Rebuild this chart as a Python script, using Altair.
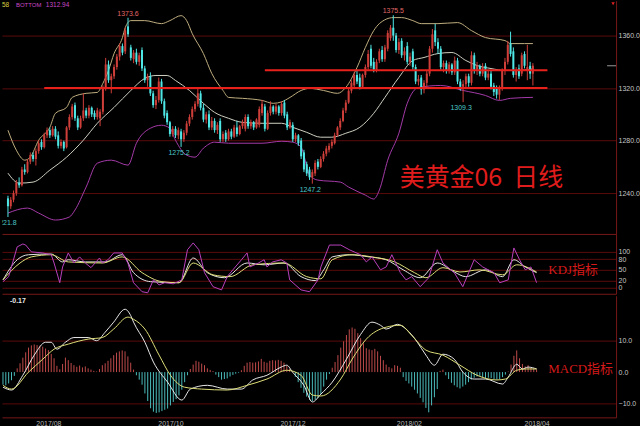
import altair as alt
import pandas as pd

# ---------------- daily bars (June gold futures) ----------------
opens = [
    1236, 1230, 1235, 1240, 1248, 1246, 1258, 1256, 1264, 1269,
    1266, 1272, 1279, 1275, 1284, 1288, 1284, 1289, 1284, 1276,
    1279, 1275, 1290, 1298, 1307, 1297, 1290, 1297, 1303, 1299,
    1305, 1301, 1298, 1297, 1302, 1320, 1338, 1326, 1329, 1336,
    1344, 1352, 1348, 1367, 1351, 1342, 1347, 1340, 1349, 1335,
    1326, 1329, 1316, 1307, 1311, 1325, 1310, 1301, 1294, 1285,
    1289, 1284, 1287, 1281, 1286, 1293, 1298, 1304, 1308, 1316,
    1305, 1296, 1300, 1290, 1295, 1288, 1295, 1281, 1286, 1281,
    1287, 1283, 1290, 1285, 1291, 1289, 1298, 1291, 1294, 1290,
    1292, 1301, 1306, 1289, 1301, 1306, 1302, 1306, 1301, 1309,
    1300, 1290, 1292, 1281, 1284, 1280, 1271, 1262, 1258, 1252,
    1255, 1264, 1260, 1266, 1270, 1273, 1276, 1278, 1284, 1290,
    1295, 1303, 1309, 1318, 1322, 1330, 1328, 1321, 1330, 1336,
    1350, 1340, 1334, 1341, 1349, 1342, 1350, 1358, 1366, 1360,
    1349, 1356, 1345, 1352, 1340, 1348, 1336, 1325, 1328, 1319,
    1324, 1331, 1350, 1364, 1355, 1350, 1336, 1339, 1333, 1338,
    1332, 1341, 1325, 1321, 1323, 1329, 1324, 1345, 1334, 1337,
    1331, 1337, 1328, 1331, 1322, 1320, 1315, 1320, 1333, 1340,
    1354, 1348, 1330, 1335, 1331, 1346, 1334, 1337, 1331,
]
highs = [
    1238, 1237, 1242, 1250, 1252, 1260, 1262, 1266, 1271, 1271,
    1274, 1280, 1281, 1286, 1290, 1290, 1291, 1291, 1287, 1281,
    1280, 1291, 1300, 1308, 1309, 1299, 1299, 1316, 1305, 1307,
    1306, 1303, 1305, 1304, 1322, 1343, 1341, 1331, 1338, 1346,
    1354, 1354, 1366, 1373.6, 1353, 1349, 1350, 1347, 1351, 1337,
    1331, 1332, 1318, 1314, 1328, 1327, 1312, 1303, 1295, 1291,
    1291, 1290, 1289, 1288, 1295, 1300, 1306, 1310, 1320, 1318,
    1308, 1302, 1303, 1298, 1297, 1294, 1297, 1287, 1288, 1289,
    1289, 1292, 1295, 1292, 1296, 1300, 1300, 1296, 1295, 1297,
    1306, 1311, 1308, 1303, 1310, 1307, 1308, 1307, 1310, 1311,
    1302, 1296, 1294, 1286, 1285, 1282, 1273, 1264, 1260, 1258,
    1265, 1266, 1268, 1272, 1276, 1278, 1281, 1286, 1291, 1297,
    1305, 1311, 1320, 1326, 1332, 1334, 1331, 1331, 1338, 1349,
    1353, 1343, 1342, 1350, 1352, 1353, 1364, 1368, 1375.5, 1362,
    1358, 1358, 1351, 1355, 1347, 1350, 1338, 1330, 1330, 1326,
    1333, 1352, 1365, 1369, 1358, 1352, 1341, 1341, 1340, 1339,
    1344, 1343, 1327, 1326, 1331, 1331, 1348, 1347, 1340, 1338,
    1339, 1339, 1333, 1333, 1324, 1322, 1322, 1335, 1343, 1356,
    1363, 1351, 1336, 1338, 1347, 1348, 1353, 1340, 1339,
]
lows = [
    1221.8, 1228, 1233, 1238, 1244, 1245, 1254, 1255, 1262, 1264,
    1261, 1270, 1273, 1274, 1282, 1282, 1283, 1281, 1274, 1274,
    1272, 1274, 1288, 1296, 1295, 1288, 1289, 1295, 1297, 1297,
    1298, 1296, 1296, 1291, 1300, 1318, 1324, 1316, 1327, 1334,
    1341, 1345, 1346, 1359, 1341, 1339, 1338, 1337, 1333, 1324,
    1321, 1314, 1305, 1304, 1309, 1308, 1297, 1292, 1283, 1283,
    1282, 1281, 1275.2, 1279, 1284, 1291, 1296, 1302, 1306, 1303,
    1294, 1293, 1288, 1288, 1286, 1285, 1279, 1279, 1279, 1280,
    1281, 1282, 1283, 1284, 1289, 1287, 1289, 1289, 1288, 1289,
    1290, 1299, 1287, 1288, 1299, 1300, 1300, 1299, 1299, 1297,
    1288, 1289, 1279, 1279, 1276, 1266, 1256, 1253, 1250, 1247.2,
    1253, 1258, 1259, 1264, 1268, 1271, 1274, 1277, 1283, 1288,
    1294, 1301, 1308, 1316, 1320, 1323, 1319, 1320, 1328, 1334,
    1335, 1332, 1332, 1339, 1340, 1340, 1348, 1356, 1356, 1347,
    1346, 1343, 1341, 1338, 1337, 1334, 1323, 1322, 1315, 1316,
    1321, 1329, 1347, 1352, 1346, 1334, 1332, 1331, 1331, 1330,
    1330, 1323, 1318, 1309.3, 1320, 1321, 1322, 1331, 1330, 1329,
    1329, 1326, 1326, 1319, 1314, 1312, 1311, 1318, 1330, 1338,
    1344, 1328, 1325, 1327, 1329, 1335, 1326, 1327, 1322,
]
closes = [
    1230, 1235, 1240, 1248, 1246, 1258, 1256, 1264, 1269, 1266,
    1272, 1278, 1275, 1284, 1288, 1284, 1289, 1283, 1276, 1279,
    1274, 1290, 1298, 1306, 1297, 1290, 1297, 1303, 1299, 1305,
    1300, 1298, 1303, 1302, 1320, 1338, 1326, 1329, 1336, 1344,
    1352, 1347, 1364, 1361, 1343, 1347, 1340, 1345, 1335, 1326,
    1329, 1316, 1307, 1311, 1325, 1310, 1299, 1294, 1285, 1289,
    1284, 1288, 1281, 1286, 1293, 1298, 1304, 1308, 1316, 1305,
    1296, 1300, 1290, 1295, 1288, 1292, 1281, 1285, 1281, 1287,
    1283, 1290, 1285, 1291, 1294, 1298, 1291, 1294, 1290, 1296,
    1304, 1308, 1289, 1301, 1306, 1302, 1306, 1301, 1308, 1299,
    1290, 1294, 1281, 1284, 1278, 1268, 1258, 1255, 1252, 1256,
    1263, 1260, 1266, 1270, 1274, 1276, 1279, 1284, 1290, 1295,
    1303, 1309, 1318, 1324, 1330, 1325, 1321, 1330, 1336, 1346,
    1337, 1334, 1340, 1348, 1342, 1351, 1362, 1366, 1360, 1349,
    1355, 1345, 1348, 1340, 1344, 1336, 1325, 1327, 1319, 1324,
    1331, 1350, 1361, 1355, 1350, 1336, 1339, 1333, 1338, 1332,
    1341, 1325, 1321, 1323, 1329, 1324, 1345, 1334, 1337, 1331,
    1336, 1328, 1331, 1321, 1317, 1315, 1320, 1333, 1340, 1353,
    1346, 1330, 1333, 1329, 1345, 1337, 1336, 1331, 1337,
]

# ---------------- Bollinger bands (bar index, price) ----------------
boll_up = [
    (0, 1287.9), (3, 1272.7), (6, 1265.1), (8, 1267.4), (11, 1280.3), (15, 1290.1),
    (17, 1300.8), (21, 1305.3), (23, 1312.9), (28, 1316.0), (32, 1316.7), (34, 1323.6),
    (36, 1333.4), (38, 1346.3), (41, 1358.5), (42, 1366.0), (44, 1371.4), (49, 1371.4),
    (55, 1369.1), (58, 1371.4), (62, 1375.2), (64, 1371.4), (66, 1361.5), (70, 1346.3),
    (73, 1331.1), (77, 1318.2), (79, 1312.9), (84, 1312.2), (91, 1310.6), (95, 1308.4),
    (98, 1309.5), (101, 1312.9), (105, 1318.2), (108, 1319.8), (113, 1318.2), (118, 1316.0),
    (121, 1320.5), (125, 1335.7), (128, 1350.9), (131, 1363.8), (133, 1369.1), (138, 1373.7),
    (141, 1373.7), (145, 1371.4), (148, 1369.1), (154, 1369.1), (161, 1369.9), (166, 1363.8),
    (171, 1358.5), (178, 1356.2), (180, 1353.9), (185, 1353.9), (188, 1353.9),
]
boll_mid = [
    (0, 1255.2), (4, 1247.6), (9, 1248.4), (15, 1257.5), (21, 1267.4), (27, 1280.3),
    (32, 1293.2), (38, 1305.3), (44, 1318.2), (49, 1327.4), (53, 1329.6), (57, 1329.6),
    (60, 1325.8), (65, 1318.2), (70, 1308.4), (74, 1301.5), (79, 1297.0), (84, 1293.9),
    (91, 1293.2), (98, 1293.2), (102, 1290.1), (107, 1286.3), (112, 1282.6), (116, 1282.6),
    (121, 1285.6), (126, 1290.1), (131, 1300.8), (135, 1312.9), (140, 1328.1), (145, 1341.0),
    (149, 1343.3), (154, 1346.3), (159, 1347.1), (164, 1341.0), (168, 1337.2), (173, 1334.9),
    (178, 1333.4), (182, 1333.4), (188, 1334.6),
]
boll_low = [
    (0, 1224.8), (7, 1228.6), (11, 1224.8), (17, 1219.5), (22, 1221.8), (24, 1227.1),
    (28, 1244.6), (32, 1262.8), (37, 1265.1), (43, 1261.3), (46, 1278.0), (51, 1289.4),
    (55, 1291.7), (58, 1289.4), (60, 1280.3), (64, 1268.9), (67, 1267.4), (70, 1274.2),
    (74, 1278.8), (79, 1278.0), (91, 1278.0), (98, 1279.5), (102, 1278.8), (105, 1275.0),
    (108, 1253.7), (111, 1249.9), (119, 1248.4), (122, 1244.6), (128, 1238.5), (131, 1235.5),
    (133, 1242.3), (136, 1265.1), (140, 1285.6), (143, 1308.4), (147, 1320.5), (155, 1322.0),
    (163, 1318.2), (171, 1314.4), (176, 1310.6), (180, 1312.2), (188, 1312.94),
]

# ---------------- KDJ ----------------
kdj_k = [
    (0, 22), (5, 78), (9, 92), (17, 94), (21, 72), (23, 78), (29, 72), (36, 72), (42, 92),
    (46, 42), (52, 17), (62, 14), (67, 83), (72, 42), (78, 28), (86, 69), (92, 64), (99, 69),
    (105, 31), (110, 20), (113, 50), (116, 86), (122, 92), (129, 86), (135, 78), (141, 50),
    (147, 28), (153, 69), (159, 44), (163, 31), (170, 50), (176, 31), (180, 78), (184, 58),
    (188, 42),
]
kdj_d = [
    (0, 22), (6, 69), (10, 86), (17, 92), (23, 72), (35, 69), (42, 86), (49, 42), (56, 17),
    (62, 14), (67, 69), (74, 36), (80, 31), (88, 64), (99, 69), (107, 31), (112, 25), (116, 78),
    (123, 92), (130, 86), (138, 72), (145, 42), (149, 28), (155, 56), (161, 44), (168, 50),
    (176, 36), (181, 64), (188, 44),
]
kdj_j = [
    (0, 17), (2, 31), (5, 114), (7, 122), (8, 119), (10, 100), (14, 97), (17, 92), (18, 69),
    (20, 14), (21, 58), (23, 97), (25, 69), (27, 86), (29, 69), (31, 56), (34, 83), (35, 69),
    (37, 78), (39, 97), (42, 97), (44, 69), (46, 14), (49, -11), (51, -14), (53, 22), (55, 8),
    (57, 14), (60, 11), (63, 22), (65, 106), (67, 125), (69, 106), (71, 42), (74, 3), (77, -6),
    (79, 31), (81, 50), (84, 78), (86, 97), (87, 58), (90, 69), (92, 78), (93, 58), (95, 72),
    (98, 78), (100, 69), (101, 22), (105, -6), (108, -11), (111, 22), (112, 58), (115, 119),
    (119, 119), (122, 106), (126, 92), (128, 72), (130, 86), (133, 50), (135, 58), (137, 92),
    (140, 42), (142, 22), (144, 31), (147, 3), (150, 28), (153, 106), (155, 69), (159, 42),
    (162, 3), (166, 78), (169, 58), (173, 42), (175, 14), (178, 22), (180, 111), (182, 78),
    (184, 50), (186, 58), (188, 14),
]

# ---------------- MACD ----------------
macd_hist = [
    -4.0, -4.2, -3.6, -2.6, -1.2, 1.2, 2.8, 4.6, 6.3, 7.8,
    8.5, 8.8, 8.6, 8.4, 8.1, 7.5, 7.0, 5.8, 4.4, 2.0,
    0.9, 2.6, 4.6, 3.8, 2.9, 2.2, 1.7, 2.1, 1.5, 1.8,
    1.2, 0.8, 0.4, 0.2, 1.0, 2.2, 2.8, 3.6, 4.4, 5.4,
    6.2, 6.6, 6.9, 6.6, 5.0, 3.0, 0.8, -1.0, -2.4, -4.0,
    -6.8, -9.2, -11.5, -12.6, -13.0, -12.8, -12.4, -12.0, -11.6, -10.6,
    -9.5, -8.6, -7.4, -5.6, -3.2, -1.0, 1.0, 2.4, 3.6, 3.3,
    2.7, 2.2, 1.2, 0.7, 0.3, -0.8, -1.6, -2.4, -2.2, -2.0,
    -1.4, -0.9, -0.5, -0.2, 0.6, 2.0, 3.0, 3.2, 3.0, 3.1,
    3.4, 4.2, 3.3, 3.0, 3.6, 3.8, 3.7, 3.9, 3.6, 3.0,
    2.0, 1.0, 0.2, -1.5, -3.2, -5.0, -6.6, -7.8, -8.8, -9.2,
    -8.8, -8.2, -7.0, -4.6, -2.4, -0.6, 1.4, 3.2, 5.4, 7.8,
    9.8, 11.8, 13.6, 14.2, 13.8, 12.4, 10.8, 9.2, 7.6, 7.2,
    7.0, 7.4, 6.6, 5.2, 3.8, 2.4, 1.6, 1.2, 2.2, 2.0,
    1.4, -1.6, -2.8, -3.6, -4.6, -5.6, -6.8, -8.2, -9.6, -11.4,
    -12.8, -10.6, -8.0, -5.4, 0.4, 0.8, -1.0, -2.2, -3.4, -4.2,
    -4.8, -5.2, -4.6, -4.0, -3.2, -2.4, -1.8, -1.4, -1.2, -1.6,
    -2.0, -1.8, -1.9, -2.2, -2.4, -2.2, -1.6, -0.8, 0.2, 2.4,
    5.2, 6.9, 4.4, 2.6, 1.8, 2.2, 1.4, 1.0, 0.8,
]
macd_dif = [
    (0, -4.8), (3, -5.7), (7, -1.0), (11, 5.4), (15, 9.5), (17, 9.5), (19, 7.3), (22, 9.5),
    (25, 11.0), (30, 11.0), (33, 10.0), (36, 12.7), (39, 15.9), (43, 20.0), (45, 18.0),
    (46, 15.9), (50, 9.5), (53, 3.2), (58, -3.2), (63, -8.9), (66, -5.4), (72, -4.2),
    (79, -5.4), (84, -5.4), (88, -2.5), (93, -1.0), (98, 1.6), (100, 2.2), (102, 0.0),
    (106, -4.2), (109, -9.5), (112, -7.0), (116, -3.2), (121, 4.1), (126, 12.0), (130, 15.9),
    (133, 14.9), (135, 13.7), (139, 15.2), (142, 13.7), (146, 9.5), (149, 5.4), (152, 2.2),
    (155, 5.7), (159, 4.1), (162, 0.0), (166, -2.2), (170, -2.2), (176, -3.8), (178, -1.6),
    (181, 2.5), (183, 1.0), (185, 1.6), (188, 1.0),
]
macd_dea = [
    (0, -4.2), (3, -5.4), (9, 0.0), (14, 4.1), (18, 7.3), (23, 8.9), (30, 10.5), (35, 11.0),
    (39, 13.7), (44, 17.5), (46, 16.8), (50, 13.7), (55, 5.4), (59, -1.0), (64, -4.8),
    (70, -5.4), (79, -5.7), (86, -4.2), (93, -2.2), (100, 0.6), (105, -1.0), (109, -7.3),
    (112, -7.6), (119, -2.2), (123, 4.1), (128, 10.5), (135, 14.3), (140, 14.9), (144, 11.7),
    (149, 7.0), (155, 5.4), (161, 2.2), (167, -1.0), (174, -2.5), (177, -2.2), (181, 0.6),
    (184, 1.0), (188, 1.0),
]

# ---------------- axis ticks, levels and labels ----------------
month_idx = [16, 59, 102, 143, 188]
month_lbl = ["2017/08", "2017/10", "2017/12", "2018/02", "2018/04"]
price_ticks = [1240, 1280, 1320, 1360]
kdj_ticks = [0, 20, 50, 80, 100]
macd_ticks = [-10, 0, 10]

level_price = [1320.0, 1333.5]
level_from = [13, 92]
level_to = [193.2, 193.2]

peak_idx = [43, 138]
peak_val = [1373.6, 1375.5]
trough_idx = [0, 62, 109, 163]
trough_val = [1221.8, 1275.2, 1247.2, 1309.3]

# ---------------- styling ----------------
W = 616
H_PRICE, H_KDJ, H_MACD = 234, 60, 122
UP, DOWN = "#cf3f3a", "#4fe6e6"
GRID, EDGE, LABEL = "#5a0b0b", "#761818", "#c6c6c6"
FONT = "Liberation Sans"
CJK = "Noto Sans CJK SC"

xs = alt.Scale(domain=[-0.35, 216.0], nice=False, zero=False)
ps = alt.Scale(domain=[1208.9, 1386.6], nice=False, zero=False)
ks = alt.Scale(domain=[-16.7, 150.0], nice=False, zero=False)
ms = alt.Scale(domain=[-14.4, 24.3], nice=False, zero=False)

sep_axis = alt.Axis(labels=False, ticks=False, grid=False, domain=True,
                    domainColor=EDGE, title=None)
label_expr = " : ".join(f"datum.value == {k} ? '{t}'" for k, t in zip(month_idx, month_lbl)) + " : ''"
date_axis = alt.Axis(values=month_idx, labelExpr=label_expr, grid=False, ticks=False,
                     domain=True, domainColor=EDGE, labelColor="#b4b4b4", labelFontSize=7,
                     labelPadding=2, labelFont=FONT, title=None)


def y_axis(values, fmt, grid_color=GRID):
    return alt.Axis(orient="right", values=values, format=fmt, grid=True, gridColor=grid_color,
                    ticks=False, domain=True, domainColor=EDGE, labelColor=LABEL,
                    labelFontSize=7, labelPadding=2, labelFont=FONT, title=None)


price_axis = y_axis(price_ticks, ".1f")
kdj_axis = y_axis(kdj_ticks, "d")
macd_axis = y_axis(macd_ticks, ".1f",
                   {"condition": {"test": "datum.value === 0", "value": "transparent"},
                    "value": GRID})


def series(name, pts):
    return pd.DataFrame({"i": [p[0] for p in pts], "v": [p[1] for p in pts], "s": name})


def label(text, x, y, size, color, font=FONT, weight="normal"):
    return alt.Chart(pd.DataFrame({"t": [text]})).mark_text(
        align="left", baseline="middle", fontSize=size, font=font, fontWeight=weight,
        color=color).encode(x=alt.value(x), y=alt.value(y), text="t:N")


n = len(closes)
candles = pd.DataFrame({"i": list(range(n)), "o": opens, "h": highs, "l": lows, "c": closes})
candles["dir"] = ["rise" if c >= o else "fall" for o, c in zip(opens, closes)]
dir_color = alt.Color("dir:N", scale=alt.Scale(domain=["rise", "fall"], range=[UP, DOWN]),
                      legend=None)

# ---------------- price panel ----------------
xp = alt.X("i:Q", scale=xs, axis=sep_axis)

bands = pd.concat([series("upper", boll_up), series("middle", boll_mid), series("lower", boll_low)])
band_lines = alt.Chart(bands).mark_line(interpolate="monotone", strokeWidth=1).encode(
    x=xp, y=alt.Y("v:Q", scale=ps, axis=price_axis),
    color=alt.Color("s:N", scale=alt.Scale(domain=["upper", "middle", "lower"],
                                           range=["#bfae7e", "#cfcfc2", "#a43aa8"]), legend=None),
)
wicks = alt.Chart(candles).mark_rule(strokeWidth=1).encode(
    x=xp, y=alt.Y("l:Q", scale=ps, axis=price_axis), y2="h:Q", color=dir_color)
bodies = alt.Chart(candles).mark_bar(size=2).encode(
    x=xp, y=alt.Y("o:Q", scale=ps, axis=price_axis), y2="c:Q", color=dir_color)

levels = pd.DataFrame({"a": level_from, "b": level_to, "v": level_price})
level_lines = alt.Chart(levels).mark_rule(strokeWidth=2, color="#e8211d").encode(
    x=alt.X("a:Q", scale=xs, axis=sep_axis), x2="b:Q",
    y=alt.Y("v:Q", scale=ps, axis=price_axis))

# short grey marker of the last close on the price scale
last_close = alt.Chart(pd.DataFrame({"v": [closes[-1]]})).mark_rule(
    strokeWidth=1, color="#9a9a9a").encode(
    x=alt.value(607), x2=alt.value(W), y=alt.Y("v:Q", scale=ps, axis=price_axis))
corner_mark = alt.Chart(pd.DataFrame({"t": ["mark"]})).mark_point(
    shape="triangle-down", filled=True, size=12, color="#e02020", opacity=1).encode(
    x=alt.value(W - 3), y=alt.value(3))

peaks = pd.DataFrame({"i": peak_idx, "v": peak_val, "t": [f"{v:.1f}" for v in peak_val]})
peak_text = alt.Chart(peaks).mark_text(baseline="bottom", dy=-1, fontSize=7, font=FONT,
                                       color="#e06868", clip=True).encode(
    x=xp, y=alt.Y("v:Q", scale=ps, axis=price_axis), text="t:N")
troughs = pd.DataFrame({"i": trough_idx, "v": trough_val, "t": [f"{v:.1f}" for v in trough_val]})
trough_text = alt.Chart(troughs).mark_text(baseline="top", dy=2, dx=-2, fontSize=7, font=FONT,
                                           color="#4cc8c8", clip=True).encode(
    x=xp, y=alt.Y("v:Q", scale=ps, axis=price_axis), text="t:N")

# status line in the top-left corner
header_mid = label("58", 0, 4, 6.5, "#d8d040")
header_bot = label("BOTTOM", 14, 4, 6, "#c848c8")
header_val = label("1312.94", 44, 4, 6.5, "#c848c8")

title_text = label("美黄金06\u00a0\u00a0日线", 399, 178, 25, "#e01c1c", font=CJK)

price = alt.layer(band_lines, wicks, bodies, level_lines, last_close, corner_mark,
                  peak_text, trough_text, header_mid, header_bot, header_val,
                  title_text).resolve_scale(color="independent").properties(
    width=W, height=H_PRICE)

# ---------------- KDJ panel ----------------
xk = alt.X("i:Q", scale=xs, axis=sep_axis)
kd = pd.concat([series("K", kdj_k), series("D", kdj_d)])
kd_lines = alt.Chart(kd).mark_line(interpolate="monotone", strokeWidth=1).encode(
    x=xk, y=alt.Y("v:Q", scale=ks, axis=kdj_axis),
    color=alt.Color("s:N", scale=alt.Scale(domain=["K", "D"], range=["#e6e6e6", "#dede78"]),
                    legend=None))
j_line = alt.Chart(series("J", kdj_j)).mark_line(strokeWidth=1, color="#b940bd").encode(
    x=xk, y=alt.Y("v:Q", scale=ks, axis=kdj_axis))
kdj_label = label("KDJ指标", 548, 36, 13, "#d41a1a", font="Liberation Serif, " + CJK)

kdj = alt.layer(kd_lines, j_line, kdj_label).properties(width=W, height=H_KDJ)

# ---------------- MACD panel ----------------
xm = alt.X("i:Q", scale=xs, axis=date_axis)
hist_df = pd.DataFrame({"i": list(range(len(macd_hist))), "v": macd_hist})
hist_df["sgn"] = ["pos" if v >= 0 else "neg" for v in macd_hist]
hist_bars = alt.Chart(hist_df).mark_rule(strokeWidth=1).encode(
    x=xm, y=alt.Y("v:Q", scale=ms, axis=macd_axis), y2=alt.datum(0),
    color=alt.Color("sgn:N", scale=alt.Scale(domain=["pos", "neg"], range=["#c04a4a", "#4bbcbc"]),
                    legend=None))
md = pd.concat([series("DIF", macd_dif), series("DEA", macd_dea)])
md_lines = alt.Chart(md).mark_line(interpolate="monotone", strokeWidth=1).encode(
    x=xm, y=alt.Y("v:Q", scale=ms, axis=macd_axis),
    color=alt.Color("s:N", scale=alt.Scale(domain=["DIF", "DEA"], range=["#e8e8e8", "#dede78"]),
                    legend=None))
macd_corner = label("-0.17", 8, 5, 7, "#e6e6e6", weight="bold")
macd_label = label("MACD指标", 548, 73, 13, "#d41a1a", font="Liberation Serif, " + CJK)

macd = alt.layer(hist_bars, md_lines, macd_corner, macd_label).resolve_scale(
    color="independent").properties(width=W, height=H_MACD)

chart = (
    alt.vconcat(price, kdj, macd, spacing=0)
    .properties(padding=0, background="#000000")
    .configure_view(strokeWidth=0)
)

chart.save("out.html", embed_options={"renderer": "svg", "actions": False})
